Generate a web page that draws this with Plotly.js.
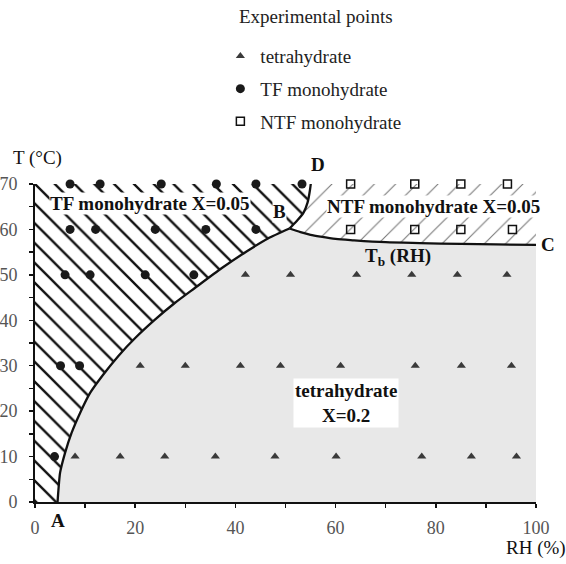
<!DOCTYPE html>
<html>
<head>
<meta charset="utf-8">
<script src="https://cdn.plot.ly/plotly-3.0.1.min.js"></script>
<style>html,body{margin:0;padding:0;background:#fff;}#chart{width:566px;height:564px;}</style>
</head>
<body>
<div id="chart"></div>
<script>
// Boundary curves (RH %, T °C)
const curveAB_x = [4.5, 4.7, 5.0, 6.0, 7.3, 9.0, 11.0, 13.6, 16.6, 20.0, 24.0, 27.9, 31.9, 37.3, 42.3, 46.5, 50.8];
const curveAB_y = [0, 3, 6.4, 10.8, 15.2, 19.6, 24.0, 28.0, 32.1, 36.1, 40.2, 43.8, 47.1, 51.5, 55.2, 58.0, 60.2];
const curveBD_x = [50.8, 52.2, 53.6, 54.4, 54.9, 55.1];
const curveBD_y = [60.2, 61.8, 63.7, 65.9, 68.8, 70.6];
const curveBC_x = [50.8, 53.0, 55.0, 57.0, 60.0, 63.7, 70.0, 76.8, 85.0, 92.0, 100.0];
const curveBC_y = [60.2, 59.4, 58.8, 58.4, 57.9, 57.6, 57.2, 57.0, 56.8, 56.7, 56.6];

// Experimental points
const tetra_x = [8, 17, 25.9, 36, 47.9, 60.1, 77.2, 87.1, 96.1,
                 21, 30, 41, 49, 61, 75.9, 85.1, 95.1,
                 42, 51, 64.2, 75.2, 84.3, 94.2];
const tetra_y = [10, 10, 10, 10, 10, 10, 10, 10, 10,
                 30, 30, 30, 30, 30, 30, 30, 30,
                 50, 50, 50, 50, 50, 50];
const tf_x = [3.9, 5.1, 8.9, 6, 11, 22, 31.7, 7, 12.1, 24, 34.1, 44.1, 7, 13, 25.2, 36.2, 44.1, 53.3];
const tf_y = [10, 30, 30, 50, 50, 50, 50, 60, 60, 60, 60, 60, 70, 70, 70, 70, 70, 70];
const ntf_x = [63, 75.8, 85, 94.3, 63, 75.8, 85, 95.3];
const ntf_y = [70, 70, 70, 70, 60, 60, 60, 60];

const xRange = [0, 100];
const yRange = [0, 70];

const serif = '"Liberation Serif", serif';

// Region polygons built from curves and axis range
const tfPolyX = [xRange[0]].concat(curveAB_x, curveBD_x, [xRange[0]]);
const tfPolyY = [yRange[0]].concat(curveAB_y, curveBD_y, [yRange[1]]);
const tetraPolyX = curveAB_x.concat(curveBC_x, [xRange[1]]);
const tetraPolyY = curveAB_y.concat(curveBC_y, [yRange[0]]);
const ntfPolyX = curveBD_x.concat([xRange[1]], curveBC_x.slice().reverse());
const ntfPolyY = curveBD_y.concat([yRange[1]], curveBC_y.slice().reverse());

const traces = [
  {x: tetraPolyX, y: tetraPolyY, mode: 'lines', fill: 'toself', fillcolor: '#e8e8e8',
   line: {width: 0, shape: 'spline', smoothing: 0.6}, showlegend: false, hoverinfo: 'skip'},
  {x: tfPolyX, y: tfPolyY, mode: 'lines', fill: 'toself', fillcolor: 'rgba(0,0,0,0)',
   fillpattern: {shape: '\\', size: 14, solidity: 0.17, fgcolor: '#111', bgcolor: '#fff'},
   line: {width: 0}, showlegend: false, hoverinfo: 'skip'},
  {x: ntfPolyX, y: ntfPolyY, mode: 'lines', fill: 'toself', fillcolor: 'rgba(0,0,0,0)',
   fillpattern: {shape: '/', size: 15, solidity: 0.07, fgcolor: '#777', bgcolor: '#fff'},
   line: {width: 0}, showlegend: false, hoverinfo: 'skip'},
  {x: curveAB_x, y: curveAB_y, mode: 'lines', line: {color: '#111', width: 2.3, shape: 'spline', smoothing: 0.6}, showlegend: false, hoverinfo: 'skip'},
  {x: curveBD_x, y: curveBD_y, mode: 'lines', line: {color: '#111', width: 2.3, shape: 'spline', smoothing: 0.8}, showlegend: false, hoverinfo: 'skip'},
  {x: curveBC_x, y: curveBC_y, mode: 'lines', line: {color: '#111', width: 2.3, shape: 'spline', smoothing: 0.8}, showlegend: false, hoverinfo: 'skip'},
  {x: tetra_x, y: tetra_y, mode: 'markers', name: 'tetrahydrate', legendgroup: 'a', cliponaxis: false,
   marker: {symbol: 'triangle-up', size: 8, color: '#3a3a3a'}},
  {x: tf_x, y: tf_y, mode: 'markers', name: 'TF monohydrate', legendgroup: 'b', cliponaxis: false,
   marker: {symbol: 'circle', size: 9, color: '#1a1a1a'}},
  {x: ntf_x, y: ntf_y, mode: 'markers', name: 'NTF monohydrate', legendgroup: 'c', cliponaxis: false,
   marker: {symbol: 'square-open', size: 8, color: '#111', line: {width: 1.5}}}
];

const lblFont = {family: serif, size: 19, color: '#111', weight: 'bold'};
const regFont = {family: serif, size: 19, color: '#111'};

const annotations = [
  {x: 23, y: 65.7, text: '<b>TF monohydrate X=0.05</b>', showarrow: false, font: lblFont, bgcolor: '#fff', borderpad: 0},
  {x: 79.6, y: 65.0, text: '<b>NTF monohydrate X=0.05</b>', showarrow: false, font: lblFont, bgcolor: '#fff', borderpad: 0},
  {x: 48.9, y: 63.9, text: '<b>B</b>', showarrow: false, font: lblFont, bgcolor: '#fff', borderpad: 0},
  {x: 56.5, yref: 'paper', y: 1.061, yanchor: 'middle', text: '<b>D</b>', showarrow: false, font: lblFont},
  {xref: 'paper', x: 1.024, xanchor: 'center', y: 56.7, text: '<b>C</b>', showarrow: false, font: lblFont},
  {x: 4.6, yref: 'paper', y: -0.059, yanchor: 'middle', text: '<b>A</b>', showarrow: false, font: lblFont},
  {x: 72.5, y: 54.0, text: '<b>T<sub>b</sub> (RH)</b>', showarrow: false, font: lblFont},
  {x: 62.1, y: 21.9, text: '<b>tetrahydrate</b><br><b>X=0.2</b>', showarrow: false, font: lblFont, bgcolor: '#fff', borderpad: 1},
  {xref: 'paper', yref: 'paper', x: 0.004, y: 1.083, xanchor: 'center', yanchor: 'middle', text: 'T (°C)', showarrow: false, font: regFont},
  {xref: 'paper', yref: 'paper', x: 1.0, y: -0.145, xanchor: 'center', yanchor: 'middle', text: 'RH (%)', showarrow: false, font: regFont},
  {xref: 'paper', yref: 'paper', x: 0.561, y: 1.526, xanchor: 'center', yanchor: 'middle', text: 'Experimental points', showarrow: false, font: {family: serif, size: 19, color: '#222'}}
];

const layout = {
  width: 566, height: 564,
  margin: {l: 35, r: 30, t: 184, b: 62},
  paper_bgcolor: '#fff', plot_bgcolor: '#fff',
  font: {family: serif, size: 19, color: '#222'},
  showlegend: true,
  legend: {x: 0.37, y: 1.462, xanchor: 'left', yanchor: 'top', traceorder: 'grouped', tracegroupgap: 5,
           font: {family: serif, size: 19, color: '#222'}, bgcolor: 'rgba(0,0,0,0)'},
  xaxis: {range: xRange, tickvals: [0, 20, 40, 60, 80, 100], showgrid: false, zeroline: false,
          showline: true, linecolor: '#111', linewidth: 2, ticks: 'outside', ticklen: 4, tickwidth: 1.5, tickcolor: '#111',
          minor: {dtick: 10, ticks: 'outside', ticklen: 4, tickwidth: 1.5, tickcolor: '#111', showgrid: false},
          tickfont: {family: serif, size: 18, color: '#555'}, ticklabelstandoff: 4},
  yaxis: {range: yRange, dtick: 10, showgrid: false, zeroline: false,
          showline: true, linecolor: '#111', linewidth: 2, ticks: 'outside', ticklen: 4, tickwidth: 1.5, tickcolor: '#111',
          minor: {dtick: 5, ticks: 'outside', ticklen: 4, tickwidth: 1.5, tickcolor: '#111', showgrid: false},
          tickfont: {family: serif, size: 18, color: '#555'}, ticklabelstandoff: 8},
  annotations: annotations
};

Plotly.newPlot('chart', traces, layout, {displayModeBar: false, staticPlot: true});
</script>
</body>
</html>
